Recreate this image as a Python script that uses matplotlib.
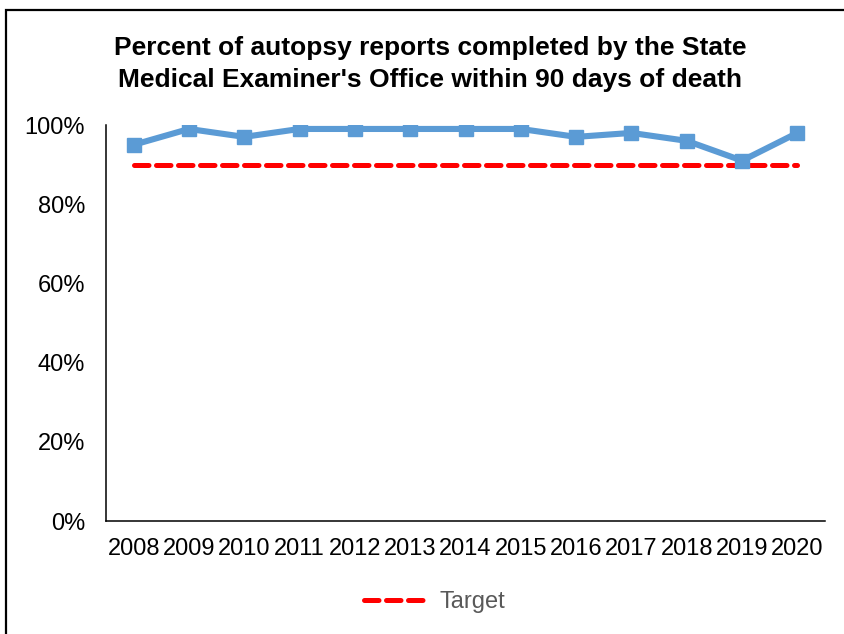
import matplotlib
matplotlib.use("Agg")
import matplotlib.pyplot as plt
from matplotlib.patches import Rectangle
from matplotlib.ticker import FuncFormatter

years = ["2008", "2009", "2010", "2011", "2012", "2013", "2014",
         "2015", "2016", "2017", "2018", "2019", "2020"]
pct_completed = [95, 99, 97, 99, 99, 99, 99, 99, 97, 98, 96, 91, 98]
target = [90] * len(years)

plt.rcParams['font.family'] = ['Liberation Sans', 'DejaVu Sans']

fig = plt.figure(figsize=(8.44, 6.34), dpi=100)
W, H = 844, 634

# chart frame (cut off at right and bottom, as in the original)
fig.patches.append(Rectangle((6 / W, -0.1), 1.2, 1.1 - 10 / H,
                             transform=fig.transFigure, fill=False,
                             edgecolor='black', linewidth=1.6))

ax = fig.add_axes([106 / W, (H - 521) / H, (825 - 106) / W, (521 - 125) / H])

x = range(len(years))
ax.plot(x, pct_completed, color='#5B9BD5', linewidth=4.4, marker='s',
        markersize=10.5, solid_joinstyle='miter', label='_nolegend_', zorder=3)
ax.plot(x, target, color='#FF0000', linewidth=3.6, linestyle=(0, (2.9, 1.5)),
        dash_capstyle='round', label='Target', zorder=2)

ax.set_xlim(-0.5, len(years) - 0.5)
ax.set_ylim(0, 100)
ax.set_yticks(range(0, 101, 20))
ax.yaxis.set_major_formatter(FuncFormatter(lambda v, p: f"{v:.0f}%"))
ax.set_xticks(list(x))
ax.set_xticklabels(years)
ax.tick_params(axis='both', length=0, labelsize=17, colors='black')
ax.tick_params(axis='x', pad=12)
ax.tick_params(axis='y', pad=15)

for s in ['top', 'right']:
    ax.spines[s].set_visible(False)
for s in ['left', 'bottom']:
    ax.spines[s].set_color('black')
    ax.spines[s].set_linewidth(1.1)

fig.text(430 / W, 1 - 64 / H,
         "Percent of autopsy reports completed by the State\n"
         "Medical Examiner's Office within 90 days of death",
         ha='center', va='center', fontsize=19, fontweight='bold',
         linespacing=1.42)

leg = fig.legend(loc='center', bbox_to_anchor=(435 / W, 1 - 602 / H),
                 frameon=False, fontsize=17, handlelength=2.7,
                 handletextpad=0.5)
for t in leg.get_texts():
    t.set_color('#595959')

fig.savefig("out.png", dpi=100)
